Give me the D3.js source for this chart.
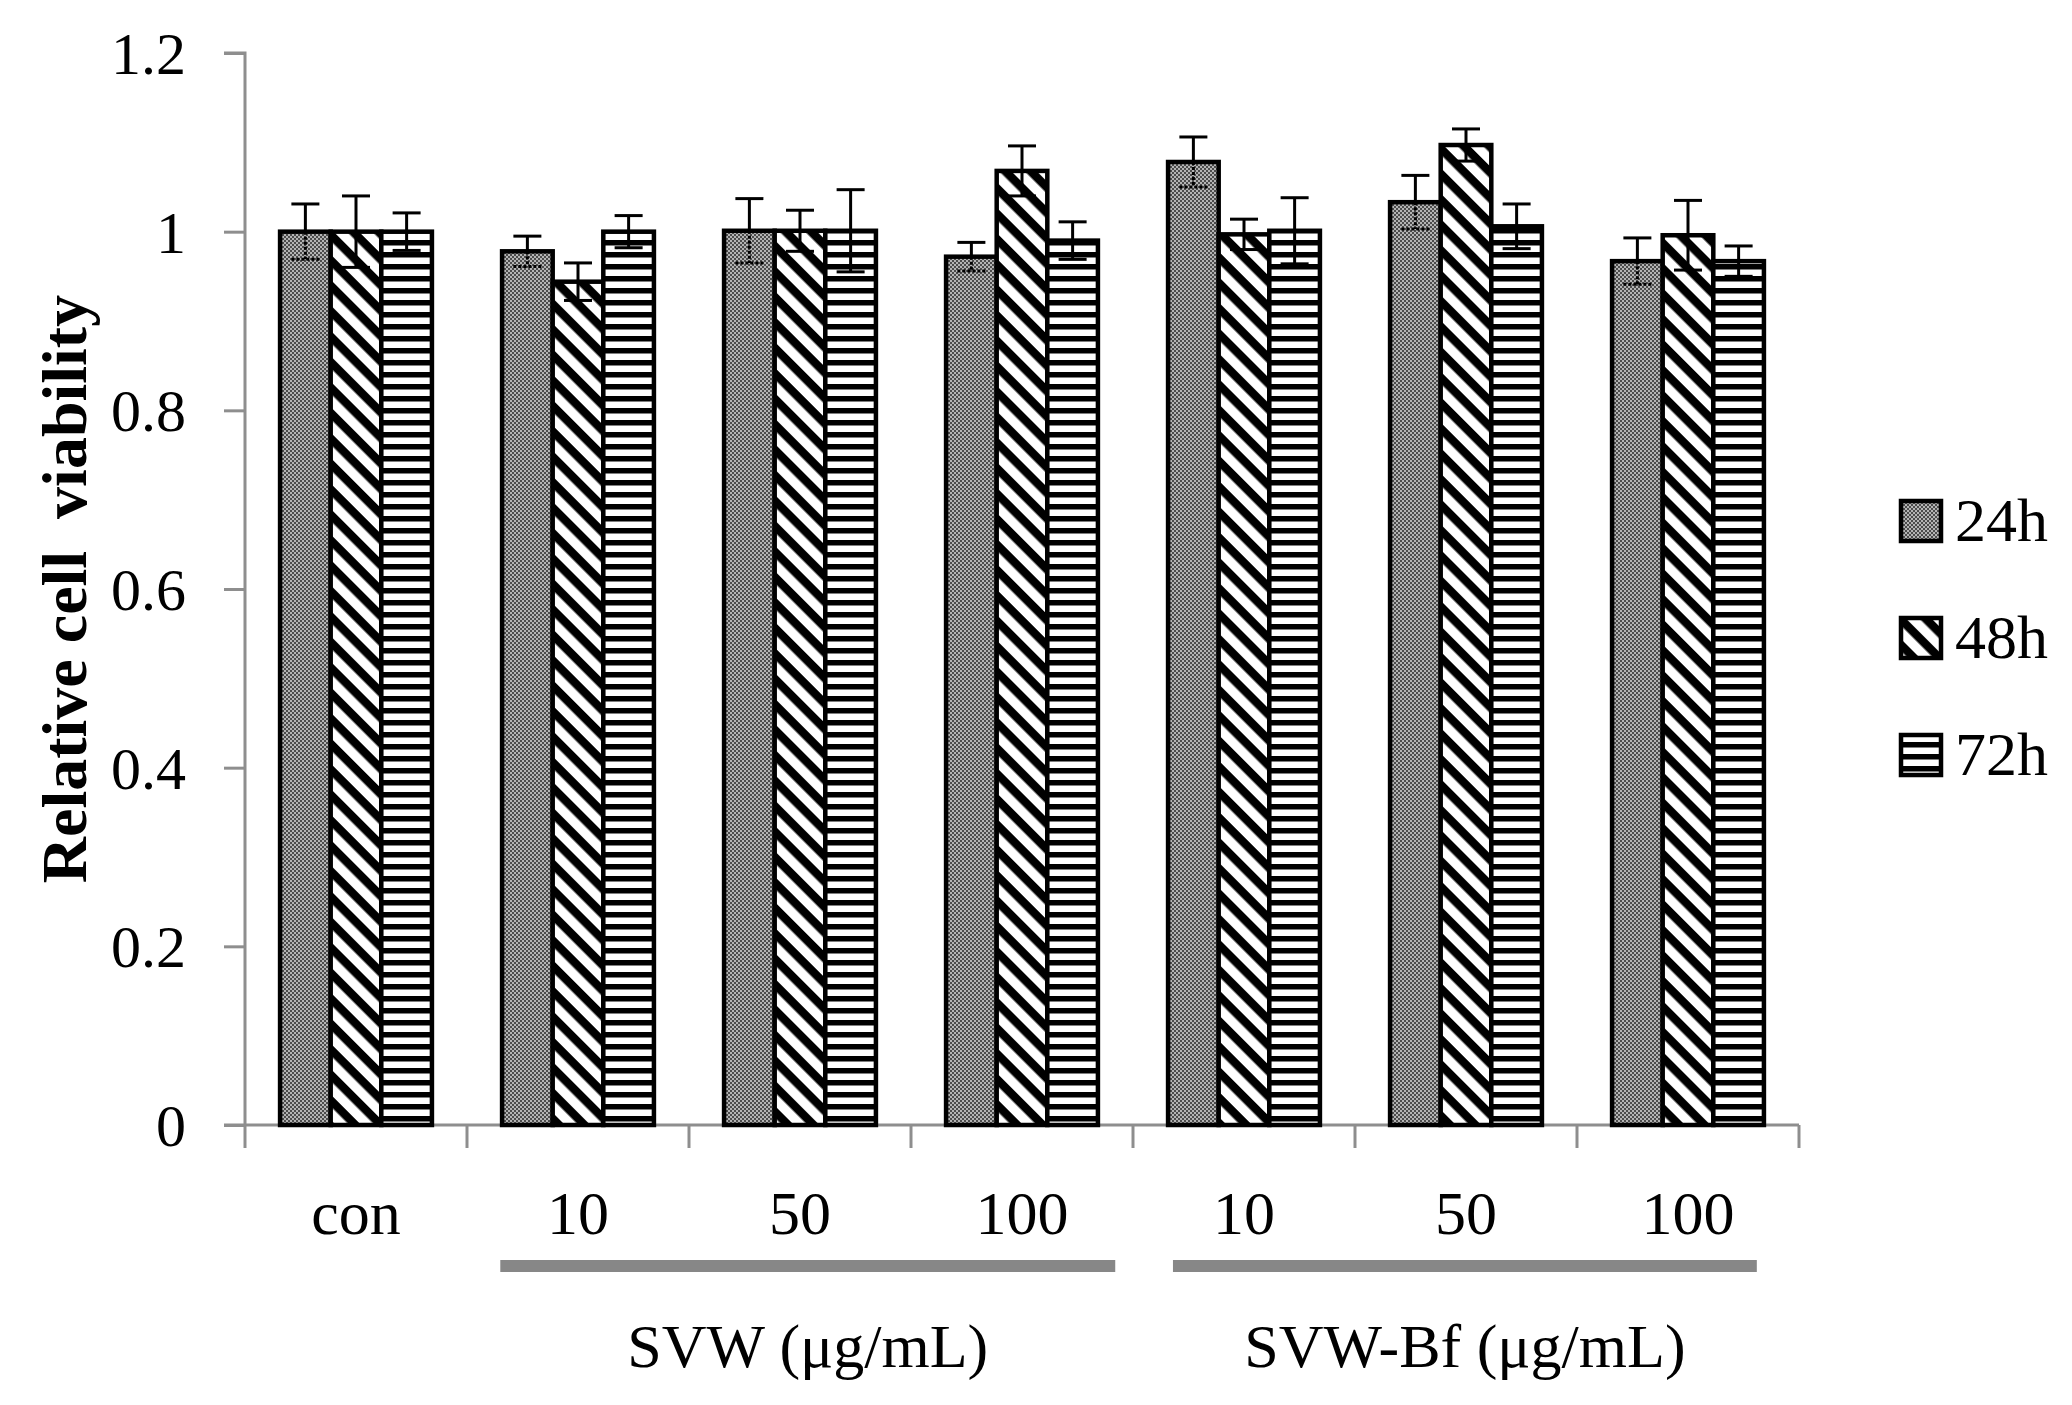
<!DOCTYPE html>
<html>
<head>
<meta charset="utf-8">
<script src="https://cdn.jsdelivr.net/npm/d3@7"></script>
<style>
  body { margin: 0; background: #fff; }
  text { font-family: "Palatino Linotype", "Book Antiqua", Palatino, "Liberation Serif", serif; fill: #000; }
</style>
</head>
<body>
<div id="chart"></div>
<script>
// categories along the x axis (ids are unique, labels repeat)
var categories = ["con", "SVW10", "SVW50", "SVW100", "Bf10", "Bf50", "Bf100"];
var catLabels = ["con", "10", "50", "100", "10", "50", "100"];
var series = ["24h", "48h", "72h"];

// relative viability
var v24 = [1.000, 0.978, 1.001, 0.972, 1.078, 1.033, 0.967];
var v48 = [1.000, 0.944, 1.001, 1.068, 0.997, 1.097, 0.996];
var v72 = [1.000, 1.000, 1.001, 0.990, 1.001, 1.006, 0.967];
// error bar half lengths
var e24 = [0.031, 0.017, 0.036, 0.016, 0.028, 0.030, 0.026];
var e48 = [0.040, 0.021, 0.023, 0.028, 0.017, 0.018, 0.039];
var e72 = [0.021, 0.018, 0.046, 0.021, 0.037, 0.025, 0.017];

var yTicks = [0, 0.2, 0.4, 0.6, 0.8, 1, 1.2];

// grouping brackets under the axis
var groupLabels = ["SVW (\u03bcg/mL)", "SVW-Bf (\u03bcg/mL)"];
var groupFirst = ["SVW10", "Bf10"];
var groupLast = ["SVW100", "Bf100"];

var values = [v24, v48, v72];
var errors = [e24, e48, e72];

var width = 2072, height = 1405;
var margin = {top: 53, left: 245, right: 273, bottom: 280};

var svg = d3.select("#chart").append("svg")
    .attr("width", width)
    .attr("height", height);

var defs = svg.append("defs");

// 24h: fine grey stipple
var p24 = defs.append("pattern").attr("id", "p24")
    .attr("patternUnits", "userSpaceOnUse").attr("width", 4).attr("height", 4);
p24.append("rect").attr("width", 4).attr("height", 4).attr("fill", "#b4b4b4");
p24.append("rect").attr("width", 2).attr("height", 2).attr("fill", "#4c4c4c");
p24.append("rect").attr("x", 2).attr("y", 2).attr("width", 2).attr("height", 2).attr("fill", "#4c4c4c");

// 48h: diagonal stripes, top-left to bottom-right
var p48 = defs.append("pattern").attr("id", "p48")
    .attr("patternUnits", "userSpaceOnUse").attr("width", 18).attr("height", 18)
    .attr("patternTransform", "rotate(45)");
p48.append("rect").attr("width", 18).attr("height", 18).attr("fill", "#fff");
p48.append("rect").attr("width", 18).attr("height", 8.5).attr("fill", "#000");

// 72h: horizontal stripes
var p72 = defs.append("pattern").attr("id", "p72")
    .attr("patternUnits", "userSpaceOnUse").attr("width", 12).attr("height", 12);
p72.append("rect").attr("width", 12).attr("height", 12).attr("fill", "#fff");
p72.append("rect").attr("width", 12).attr("height", 5.5).attr("fill", "#000");

var fills = ["url(#p24)", "url(#p48)", "url(#p72)"];

var x0 = d3.scaleBand()
    .domain(categories)
    .range([margin.left, width - margin.right])
    .padding(0);

var step = x0.step();
var x1 = d3.scaleBand()
    .domain(series)
    .range([step * 0.158, step * 0.842])
    .padding(0);

var y = d3.scaleLinear()
    .domain([0, 1.2])
    .range([height - margin.bottom, margin.top]);

var axisColor = "#8e8e8e";

// y axis
var yAxis = svg.append("g")
    .attr("transform", "translate(" + margin.left + ",0)")
    .call(d3.axisLeft(y).tickValues(yTicks).tickSize(21).tickPadding(38)
        .tickFormat(function (d) { return d3.format("~g")(d); }));
yAxis.select(".domain").attr("stroke", axisColor).attr("stroke-width", 3)
    .attr("d", "M-21," + y(1.2) + "H0V" + y(0));
yAxis.selectAll(".tick line").attr("stroke", axisColor).attr("stroke-width", 3);
yAxis.selectAll(".tick text")
    .style("font-size", "60px")
    .attr("dy", "0.34em");

// x axis line and ticks at band boundaries
svg.append("line")
    .attr("x1", margin.left - 21).attr("x2", width - margin.right)
    .attr("y1", y(0)).attr("y2", y(0))
    .attr("stroke", axisColor).attr("stroke-width", 3);

var boundaries = categories.map(function (c) { return x0(c); });
boundaries.push(x0(categories[categories.length - 1]) + step);
svg.selectAll(".xtick").data(boundaries).enter().append("line")
    .attr("class", "xtick")
    .attr("x1", function (d) { return d; }).attr("x2", function (d) { return d; })
    .attr("y1", y(0)).attr("y2", y(0) + 23)
    .attr("stroke", axisColor).attr("stroke-width", 3);

svg.selectAll(".xlabel").data(categories).enter().append("text")
    .attr("class", "xlabel")
    .attr("x", function (d) { return x0(d) + step / 2; })
    .attr("y", 1234)
    .attr("text-anchor", "middle")
    .style("font-size", "62px")
    .text(function (d, i) { return catLabels[i]; });

// bars
var barData = [];
categories.forEach(function (c, i) {
    series.forEach(function (s, j) {
        barData.push({cat: c, ser: s, si: j, value: values[j][i], err: errors[j][i]});
    });
});

svg.append("g").selectAll("rect").data(barData).enter().append("rect")
    .attr("x", function (d) { return x0(d.cat) + x1(d.ser); })
    .attr("y", function (d) { return y(d.value); })
    .attr("width", x1.bandwidth())
    .attr("height", function (d) { return y(0) - y(d.value); })
    .attr("fill", function (d) { return fills[d.si]; })
    .attr("stroke", "#000")
    .attr("stroke-width", 4.5);

// error bars
var eb = svg.append("g").selectAll("g").data(barData).enter().append("g");
var cx = function (d) { return x0(d.cat) + x1(d.ser) + x1.bandwidth() / 2; };
eb.append("line")
    .attr("x1", cx).attr("x2", cx)
    .attr("y1", function (d) { return y(d.value); })
    .attr("y2", function (d) { return y(d.value + d.err); })
    .attr("stroke", "#000").attr("stroke-width", 3);
eb.append("line")
    .attr("x1", cx).attr("x2", cx)
    .attr("y1", function (d) { return y(d.value); })
    .attr("y2", function (d) { return y(d.value - d.err); })
    .attr("stroke", "#000").attr("stroke-width", 3)
    .attr("stroke-dasharray", function (d) { return d.si == 0 ? "3,2" : null; });
eb.append("line")
    .attr("x1", function (d) { return cx(d) - 14; })
    .attr("x2", function (d) { return cx(d) + 14; })
    .attr("y1", function (d) { return y(d.value + d.err); })
    .attr("y2", function (d) { return y(d.value + d.err); })
    .attr("stroke", "#000").attr("stroke-width", 3);
eb.append("line")
    .attr("x1", function (d) { return cx(d) - 14; })
    .attr("x2", function (d) { return cx(d) + 14; })
    .attr("y1", function (d) { return y(d.value - d.err); })
    .attr("y2", function (d) { return y(d.value - d.err); })
    .attr("stroke", "#000").attr("stroke-width", 3)
    .attr("stroke-dasharray", function (d) { return d.si == 0 ? "3,2" : null; });

// group brackets and their labels (insets as fractions of a band)
var bracketStart = [0.15, 0.18];
var bracketEnd = [0.92, 0.81];
groupLabels.forEach(function (label, i) {
    var gx1 = x0(groupFirst[i]) + step * bracketStart[i];
    var gx2 = x0(groupLast[i]) + step * bracketEnd[i];
    svg.append("line")
        .attr("x1", gx1).attr("x2", gx2)
        .attr("y1", 1266).attr("y2", 1266)
        .attr("stroke", "#878787").attr("stroke-width", 12);
    svg.append("text")
        .attr("x", (gx1 + gx2) / 2)
        .attr("y", 1367)
        .attr("text-anchor", "middle")
        .style("font-size", "62px")
        .text(label);
});

// y axis title
svg.append("text")
    .attr("transform", "translate(86," + (y(0.6)) + ") rotate(-90)")
    .attr("text-anchor", "middle")
    .style("font-size", "64px")
    .style("font-weight", "bold")
    .style("white-space", "pre")
    .text("Relative cell  viability");

// legend
var legend = svg.append("g").selectAll("g").data(series).enter().append("g")
    .attr("transform", function (d, i) { return "translate(1899," + (520 + i * 117) + ")"; });
legend.append("rect")
    .attr("x", 2).attr("y", -19)
    .attr("width", 40).attr("height", 40)
    .attr("fill", function (d, i) { return fills[i]; })
    .attr("stroke", "#000").attr("stroke-width", 4.5);
legend.append("text")
    .attr("x", 56).attr("y", 0)
    .attr("dy", "0.34em")
    .style("font-size", "62px")
    .text(function (d) { return d; });
</script>
</body>
</html>
